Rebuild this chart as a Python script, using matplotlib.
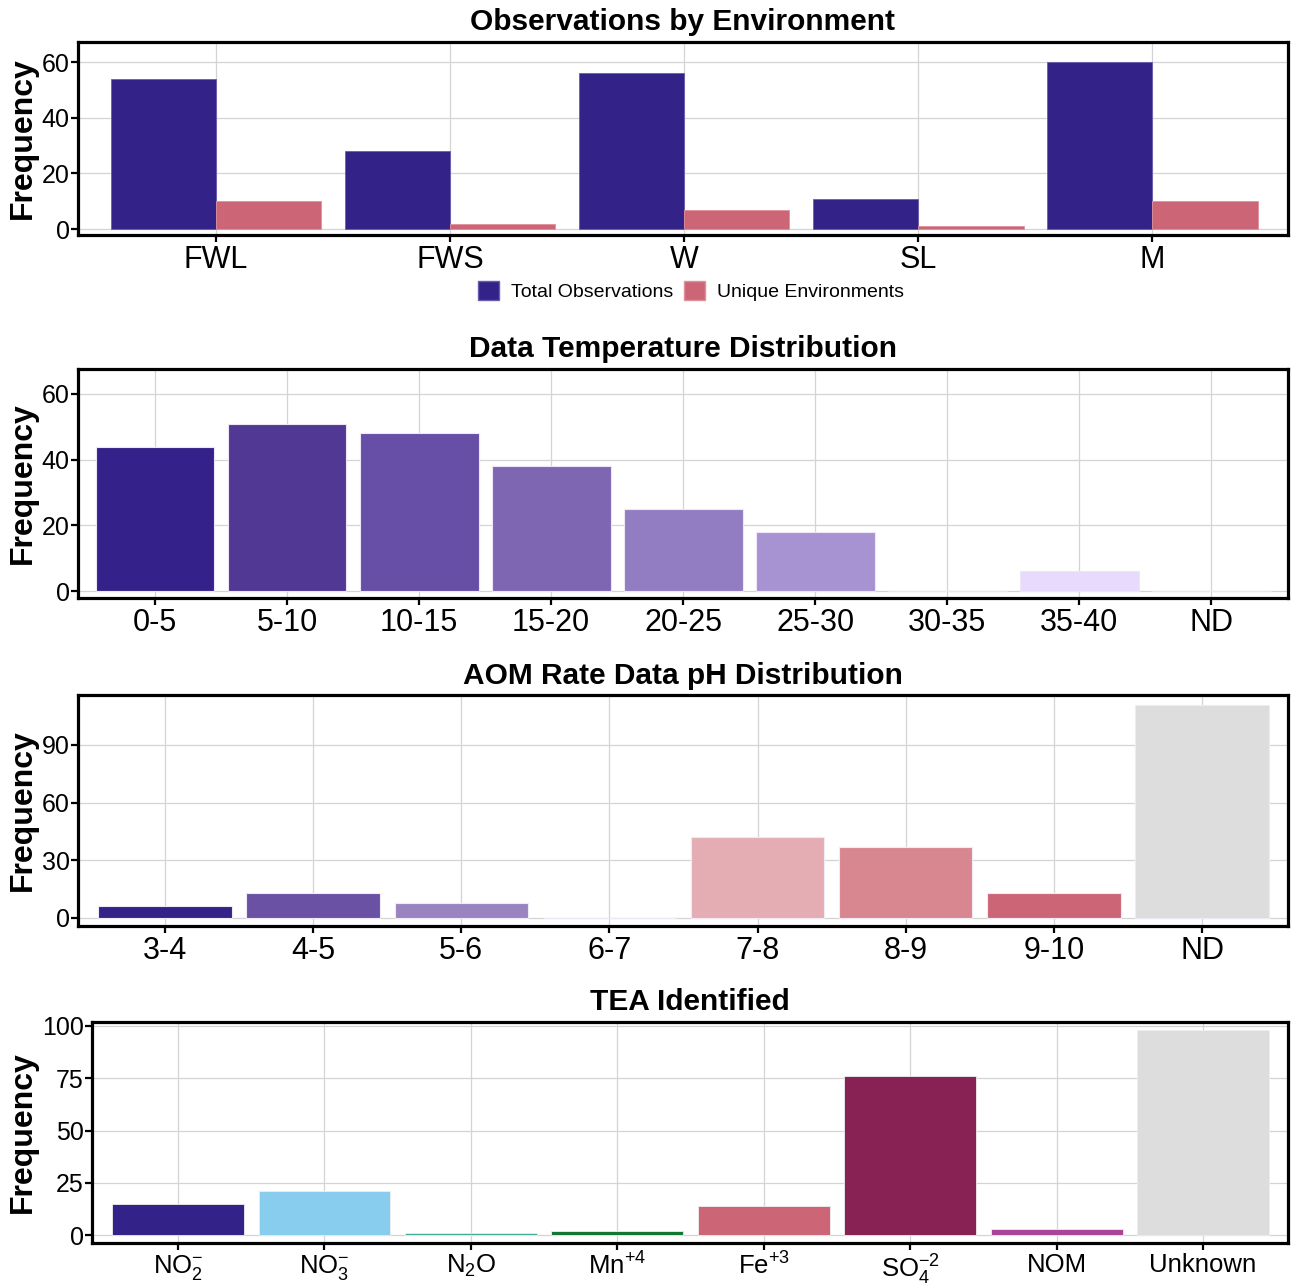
import matplotlib
matplotlib.use("Agg")
import matplotlib.pyplot as plt
from matplotlib.patches import Patch

plt.rcParams['font.family'] = ['Liberation Sans', 'DejaVu Sans']
plt.rcParams['mathtext.fontset'] = 'custom'
plt.rcParams['mathtext.rm'] = 'Liberation Sans'
plt.rcParams['mathtext.it'] = 'Liberation Sans'
plt.rcParams['mathtext.bf'] = 'Liberation Sans:bold'

# ---- data ----
env_cats = ["FWL", "FWS", "W", "SL", "M"]
env_total = [54, 28, 56, 11, 60]
env_unique = [10, 2, 7, 1, 10]

temp_cats = ["0-5", "5-10", "10-15", "15-20", "20-25", "25-30", "30-35", "35-40", "ND"]
temp_vals = [44, 51, 48, 38, 25, 18, 0, 6, 0]
temp_colors = ["#34228a", "#503894", "#674ea6", "#7e66b3", "#937dc2", "#a893d2",
               "#c8b6e6", "#e8dafc", "#f4eefc"]

ph_cats = ["3-4", "4-5", "5-6", "6-7", "7-8", "8-9", "9-10", "ND"]
ph_vals = [6, 13, 8, 0, 42, 37, 13, 111]
ph_colors = ["#332288", "#6a51a3", "#9a84c0", "#ece4f4", "#e3adb3", "#d88791",
             "#cc6677", "#dddddd"]

tea_cats = [r"NO$_2^{-}$", r"NO$_3^{-}$", r"N$_2$O", r"Mn$^{+4}$", r"Fe$^{+3}$",
            r"SO$_4^{-2}$", "NOM", "Unknown"]
tea_vals = [15, 21, 1, 2, 14, 76, 3, 98]
tea_colors = ["#332288", "#88CCEE", "#44AA99", "#117733", "#CC6677", "#882255",
              "#AA4499", "#DDDDDD"]

W, H = 1291, 1285
fig = plt.figure(figsize=(W / 100, H / 100), dpi=100)


def make_ax(left, top, right, bottom):
    return fig.add_axes([left / W, 1 - bottom / H, (right - left) / W, (bottom - top) / H])


def style(ax, xfs=22, yfs=18):
    ax.set_axisbelow(True)
    ax.grid(True, color="#d4d4d4", lw=0.9)
    for s in ax.spines.values():
        s.set_linewidth(2.3)
        s.set_color("black")
    ax.tick_params(axis="both", length=5, width=1.6, color="black")
    ax.tick_params(axis="x", labelsize=xfs, pad=2)
    ax.tick_params(axis="y", labelsize=yfs, pad=1)


def title(ax, text, ypx):
    b = ax.get_position()
    fig.text((b.x0 + b.x1) / 2, 1 - ypx / H, text, ha="center", va="center",
             fontsize=21.5, fontweight="bold")


def ylab(ax):
    b = ax.get_position()
    fig.text(23 / W, (b.y0 + b.y1) / 2, "Frequency", rotation=90, ha="center",
             va="center", fontsize=23, fontweight="bold")


# ---- panel 1 ----
ax1 = make_ax(78, 42, 1288, 235)
x = list(range(len(env_cats)))
ax1.bar([i - 0.225 for i in x], env_total, width=0.45, color="#332288",
        edgecolor="#6a5cb0", lw=0.6, label="Total Observations")
ax1.bar([i + 0.225 for i in x], env_unique, width=0.45, color="#CC6677",
        edgecolor="#e0909c", lw=0.6, label="Unique Environments")
ax1.set_xticks(x)
ax1.set_xticklabels(env_cats)
ax1.set_yticks([0, 20, 40, 60])
ax1.set_xlim(-0.59, 4.58)
ax1.set_ylim(-2.1, 67.2)
style(ax1)
title(ax1, "Observations by Environment", 22)
ylab(ax1)
handles = [Patch(facecolor="#332288", edgecolor="#6a5cb0", label="Total Observations"),
           Patch(facecolor="#CC6677", edgecolor="#e0909c", label="Unique Environments")]
fig.legend(handles=handles, loc="center", bbox_to_anchor=(691 / W, 1 - 291 / H),
           ncol=2, frameon=False, fontsize=14, handlelength=1.08, handleheight=1.08,
           handletextpad=0.6, columnspacing=0.6)

# ---- panel 2 ----
ax2 = make_ax(78, 369, 1288, 598)
x = list(range(len(temp_cats)))
ax2.bar(x, temp_vals, width=0.9, color=temp_colors, edgecolor="#ece6f7", lw=0.8)
ax2.set_xticks(x)
ax2.set_xticklabels(temp_cats)
ax2.set_yticks([0, 20, 40, 60])
ax2.set_xlim(-0.583, 8.58)
ax2.set_ylim(-2.1, 67.6)
style(ax2)
title(ax2, "Data Temperature Distribution", 349)
ylab(ax2)

# ---- panel 3 ----
ax3 = make_ax(78, 695, 1288, 926)
x = list(range(len(ph_cats)))
ax3.bar(x, ph_vals, width=0.9, color=ph_colors, edgecolor="#f0eaf6", lw=0.8)
ax3.set_xticks(x)
ax3.set_xticklabels(ph_cats)
ax3.set_yticks([0, 30, 60, 90])
ax3.set_xlim(-0.587, 7.58)
ax3.set_ylim(-4.2, 116)
style(ax3)
title(ax3, "AOM Rate Data pH Distribution", 676)
ylab(ax3)

# ---- panel 4 ----
ax4 = make_ax(92, 1022, 1288, 1243)
x = list(range(len(tea_cats)))
ax4.bar(x, tea_vals, width=0.9, color=tea_colors, edgecolor="#eeeeee", lw=0.6)
ax4.set_xticks(x)
ax4.set_xticklabels(tea_cats)
ax4.set_yticks([0, 25, 50, 75, 100])
ax4.set_xlim(-0.587, 7.58)
ax4.set_ylim(-3.8, 101.9)
style(ax4, xfs=18.5, yfs=18)
title(ax4, "TEA Identified", 1002)
ylab(ax4)

fig.savefig("out.png", dpi=100)
